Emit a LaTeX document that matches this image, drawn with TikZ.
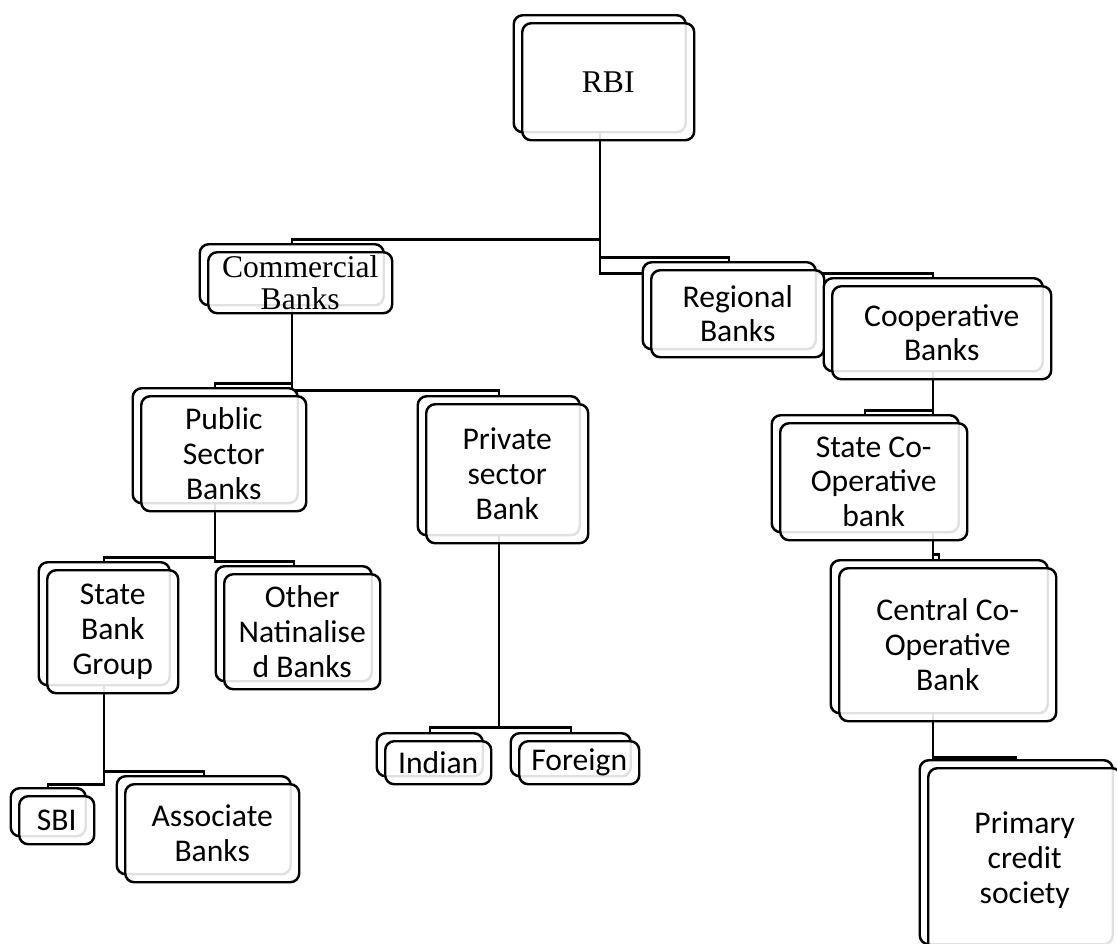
\documentclass[tikz,border=0pt]{standalone}
\usepackage{fontspec}
\setmainfont{Liberation Serif}
\newfontfamily\calibri{Carlito}
\usetikzlibrary{shadows,backgrounds}

\tikzset{
  bank/.style={draw, line width=1.4pt, rounded corners=0.18cm, fill=white,
    fill opacity=0.88, text opacity=1, align=center, anchor=north west,
    inner sep=0pt, font=\calibri\fontsize{18}{19.8}\selectfont,
    copy shadow={shadow xshift=-0.17cm, shadow yshift=0.16cm,
      fill=white, fill opacity=1, draw=black, line width=1.4pt}},
  serif/.style={font=\rmfamily\fontsize{18}{18.7}\selectfont},
  wh/.style 2 args={minimum width=#1*0.02cm, minimum height=#2*0.02cm},
  bk/.style={shift={(-8.5,-8)}},
  link/.style={line width=1.3pt}
}

\begin{document}
\begin{tikzpicture}[x=0.02cm, y=-0.02cm]
  \useasboundingbox (0,0) rectangle (1117,944);

  % top level
  \node[bank, serif, wh={172}{117}] (rbi) at (521,22) {RBI};
  \node[bank, serif, wh={184}{61}] (comm) at (207,251) {Commercial\\Banks};
  \node[bank, wh={173}{87}] (reg) at (650,269) {Regional\\Banks};
  \node[bank, wh={219}{93}] (coop) at (831,285) {Cooperative\\Banks};

  % commercial side
  \node[bank, wh={165}{115}] (pub) at (140,395) {Public\\Sector\\Banks};
  \node[bank, wh={162}{139}] (priv) at (425,403) {Private\\sector\\Bank};
  \node[bank, wh={131}{123}] (sbg) at (46,569) {State\\Bank\\Group};
  \node[bank, wh={156}{115}] (oth) at (223,573) {Other\\Natinalise\\d Banks};
  \node[bank, wh={75}{48}] (sbi) at (18,795) {SBI};
  \node[bank, wh={174}{98}] (assoc) at (124,783) {Associate\\Banks};
  \node[bank, wh={106}{43}] (ind) at (384,740) {Indian};
  \node[bank, wh={120}{43}] (forn) at (518,740) {Foreign};

  % cooperative side
  \node[bank, wh={187}{117}] (stco) at (779,422) {State Co-\\Operative\\bank};
  \node[bank, wh={217}{153}] (cent) at (838,567) {Central Co-\\Operative\\Bank};
  \node[bank, wh={193}{184}] (prim) at (927,767) {Primary\\credit\\society};

  \begin{scope}[on background layer]
    \fill[white] (0,0) rectangle (1117,944);
    \draw[link] ([bk]rbi.south) -- ++(0,106) -| ([bk]comm.north);
    \draw[link] ([bk]rbi.south) -- ++(0,124) -| ([bk]reg.north);
    \draw[link] ([bk]rbi.south) -- ++(0,140) -| ([bk]coop.north);
    \draw[link] ([bk]comm.south) -- ++(0,77) -| ([bk]pub.north);
    \draw[link] ([bk]comm.south) -- ++(0,84) -| ([bk]priv.north);
    \draw[link] ([bk]pub.south) -- ++(0,53) -| ([bk]sbg.north);
    \draw[link] ([bk]pub.south) -- ++(0,57) -| ([bk]oth.north);
    \draw[link] ([bk]sbg.south) -- ++(0,98) -| ([bk]sbi.north);
    \draw[link] ([bk]sbg.south) -- ++(0,85) -| ([bk]assoc.north);
    \draw[link] ([bk]priv.south) -- ++(0,191) -| ([bk]ind.north);
    \draw[link] ([bk]priv.south) -- ++(0,191) -| ([bk]forn.north);
    \draw[link] ([bk]coop.south) -- ++(0,38) -| ([bk]stco.north);
    \draw[link] ([bk]coop.south) -- ++(0,182) -| ([bk]cent.north);
    \draw[link] ([bk]coop.south) -- ++(0,385) -| ([bk]prim.north);
  \end{scope}
\end{tikzpicture}
\end{document}
